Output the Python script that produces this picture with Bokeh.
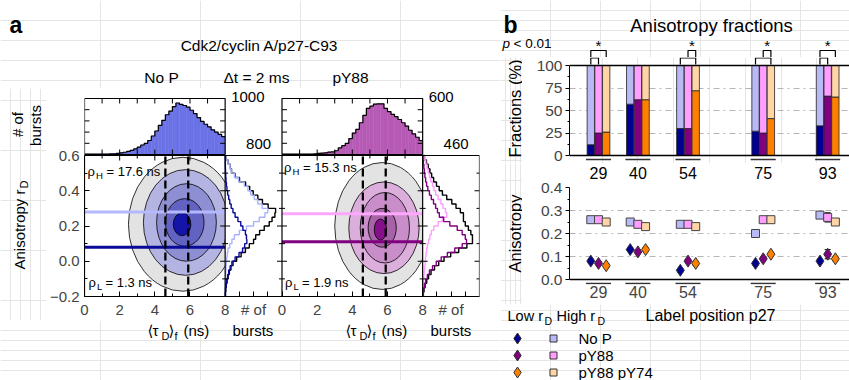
import math
from bokeh.plotting import figure
from bokeh.models import (Range1d, FixedTicker, Label, Whisker, TeeHead,
                          ColumnDataSource, Span, NumeralTickFormatter)
from bokeh.layouts import row, column
from bokeh.embed import file_html
from bokeh.resources import INLINE

FONT = "Liberation Sans"

# ======================= Panel a data =======================
tau_edges = [round(0.2 * i, 1) for i in range(41)]          # ns bins of top histograms
nop_tau_counts = [5, 5, 5, 5, 5, 8, 8, 10, 12, 20,
                  30, 40, 55, 75, 100, 130, 170, 200, 250, 330,
                  420, 520, 610, 710, 775, 855, 920, 895, 875, 845,
                  790, 730, 660, 590, 540, 495, 440, 400, 360, 320]
py88_tau_counts = [3, 3, 3, 3, 3, 3, 4, 4, 5, 6,
                   12, 15, 18, 25, 28, 40, 70, 95, 120, 170,
                   230, 270, 340, 420, 495, 518, 540, 543, 543, 495,
                   460, 430, 405, 375, 340, 305, 260, 220, 185, 150]
nop_tau_max, py88_tau_max = 1000, 600

r_edges = [round(-0.2 + 0.025 * i, 4) for i in range(33)]   # anisotropy bins of side histograms
nop_r_high = [2, 3, 4, 5, 7, 9, 12, 16, 22, 30, 40, 65, 95, 130, 200, 300,
              400, 480, 560, 600, 520, 460, 410, 360, 320, 270, 190, 130, 85, 70, 40, 10]
nop_r_low = [3, 6, 12, 22, 35, 50, 70, 95, 140, 195, 245, 275, 305, 300, 285, 250,
             220, 180, 140, 110, 85, 65, 50, 35, 25, 18, 12, 8, 5, 3, 2, 1]
py88_r_high = [2, 3, 5, 8, 10, 13, 16, 20, 23, 27, 32, 38, 48, 58, 70, 90,
               125, 160, 195, 185, 165, 148, 125, 105, 92, 80, 65, 55, 45, 35, 25, 12]
py88_r_low = [4, 8, 15, 25, 38, 55, 80, 110, 150, 200, 260, 320, 355, 345, 320, 280,
              220, 170, 135, 120, 105, 88, 70, 55, 42, 32, 24, 18, 14, 10, 6, 3]
nop_r_max, py88_r_max = 800, 460

# contour levels (outer -> inner): centre, full width, full height
nop_ctr_tau = [5.6, 5.75, 5.8, 5.7, 5.55]
nop_ctr_r = [0.21, 0.22, 0.22, 0.22, 0.21]
nop_ctr_w = [6.2, 4.8, 3.4, 2.2, 1.0]
nop_ctr_h = [0.76, 0.60, 0.44, 0.27, 0.13]
nop_ctr_col = ["#e3e3e3", "#b4b4e2", "#8e8ed3", "#6262c2", "#1414a8"]
py88_ctr_tau = [5.7, 5.8, 5.85, 5.7, 5.6]
py88_ctr_r = [0.20, 0.19, 0.19, 0.19, 0.18]
py88_ctr_w = [5.4, 4.0, 2.8, 1.6, 0.7]
py88_ctr_h = [0.72, 0.52, 0.40, 0.22, 0.12]
py88_ctr_col = ["#e3e3e3", "#dcaedc", "#c98ec9", "#a862a8", "#85108a"]

nop_tau_lines = [4.6, 5.9]
py88_tau_lines = [4.6, 5.9]
nop_r_levels = [0.28, 0.08]      # high, low
py88_r_levels = [0.27, 0.11]
nop_rho = ["17.6", "1.3"]
py88_rho = ["15.3", "1.9"]

# ======================= Panel b data =======================
positions = [29, 40, 54, 75, 93]
series = ["No P", "pY88", "pY88 pY74"]
frac_low = [[12, 57, 30, 27, 33], [25, 62, 30, 25, 66], [26, 62, 72, 41, 65]]
aniso_high = [[0.26, 0.25, 0.24, 0.20, 0.28], [0.26, 0.24, 0.24, 0.26, 0.27], [0.25, 0.23, 0.23, 0.26, 0.25]]
aniso_high_err = [[0.008, 0.008, 0.006, 0.008, 0.008], [0.006, 0.006, 0.006, 0.006, 0.02], [0.008, 0.008, 0.008, 0.008, 0.008]]
aniso_low = [[0.08, 0.13, 0.04, 0.07, 0.08], [0.07, 0.12, 0.08, 0.09, 0.11], [0.06, 0.13, 0.07, 0.11, 0.09]]
aniso_low_err = [[0.008, 0.008, 0.008, 0.008, 0.008], [0.008, 0.008, 0.008, 0.008, 0.02], [0.008, 0.008, 0.008, 0.008, 0.008]]
sig_pairs = {29: [(0, 1), (0, 2)], 54: [(0, 2), (1, 2)], 75: [(0, 2), (1, 2)], 93: [(0, 1), (0, 2)]}

low_colors = ["#000090", "#800080", "#ff8000"]
high_colors = ["#b9b9f6", "#ff9eff", "#ffd5a6"]
nop_fill, py88_fill = "#6a72e6", "#b65ab6"


# ======================= helpers =======================
def fig(w, h, xr, yr, lb=0, rb=0, tb=0, bb=0, **kw):
    p = figure(width=w, height=h, x_range=xr, y_range=yr,
               min_border_left=lb, min_border_right=rb, min_border_top=tb, min_border_bottom=bb,
               output_backend="svg", toolbar_location=None, tools="", **kw)
    p.background_fill_color = "white"
    p.border_fill_color = "white"
    try:
        p.frame_align = False
    except Exception:
        pass
    return p


def textfig(x0, x1, y0, y1):
    p = fig(x1 - x0, y1 - y0, Range1d(x0, x1), Range1d(y1, y0),
            x_axis_location=None, y_axis_location=None)
    p.outline_line_color = None
    return p


def label(p, x, y, text, size=15, align="left", baseline="middle", angle=0.0,
          style="normal", color="black", xr=None, yr=None, font=FONT):
    kw = dict(x=x, y=y, text=text, text_font=font, text_font_size=f"{size}px",
              text_align=align, text_baseline=baseline, angle=angle,
              text_font_style=style, text_color=color)
    if xr:
        kw["x_range_name"] = xr
    if yr:
        kw["y_range_name"] = yr
    p.add_layout(Label(**kw))


def style_axis(ax, size="15px"):
    ax.major_label_text_font = FONT
    ax.major_label_text_font_size = size
    ax.axis_line_color = "black"
    ax.major_tick_line_color = "black"
    ax.minor_tick_line_color = "black"


# ======================= Panel a =======================
MAIN_W, HIST_W = 141, 57
FR_W = 2 * (MAIN_W + HIST_W)        # 396 px frame width
K = 8.0 / MAIN_W                    # ns per pixel
RK = 0.8 / 141                      # anisotropy per pixel
PY_OFF = (MAIN_W + HIST_W) * K      # pY88 block start (NoP-ns units)
A_FL, A_FT, A_FB = 83, 88, 296      # frame left/top/bottom (page px)
TOP_T, TOP_B = 98, 154              # top histogram box
MAIN_T = 155
A_BOT = A_FB + 24

hdA = textfig(0, 500, 0, 88)
label(hdA, 9, 24, "a", size=23, style="bold")
label(hdA, 259, 45, "Cdk2/cyclin A/p27-C93", size=15.5, align="center")
label(hdA, 161, 77, "No P", size=15.5, align="center")
label(hdA, 223, 77, "\u0394t = 2 ms", size=15.5)
label(hdA, 350, 77, "pY88", size=15.5, align="center")

txtLA = textfig(0, 46, 88, A_BOT)
label(txtLA, 17, 124, "# of", size=15, align="center", angle=math.pi / 2)
label(txtLA, 35, 125, "bursts", size=15, align="center", angle=math.pi / 2)
label(txtLA, 19, 229, "Anisotropy r", size=15, align="center", angle=math.pi / 2)
label(txtLA, 23, 184, "D", size=11, align="center", angle=math.pi / 2)

A = fig(500 - 46, A_BOT - A_FT, Range1d(0, FR_W * K),
        Range1d(-0.2, 0.6 + (MAIN_T - A_FT) * RK), lb=A_FL - 46, rb=500 - A_FL - FR_W, tb=0, bb=A_BOT - A_FB)
A.outline_line_color = None
A.grid.visible = False


def top_rng(cmax):
    per = cmax / (TOP_B - TOP_T)
    return Range1d(-(A_FB - TOP_B) * per, (TOP_B - A_FT) * per)


A.extra_x_ranges = {
    "cnt1": Range1d(-nop_r_max * MAIN_W / HIST_W, nop_r_max * (FR_W - MAIN_W) / HIST_W),
    "tau2": Range1d(-PY_OFF, (FR_W - MAIN_W - HIST_W) * K),
    "cnt2": Range1d(-py88_r_max * (2 * MAIN_W + HIST_W) / HIST_W, py88_r_max),
    "px": Range1d(A_FL, A_FL + FR_W)}
A.extra_y_ranges = {"py": Range1d(A_FB, A_FT), "top1": top_rng(nop_tau_max), "top2": top_rng(py88_tau_max)}

# ---- top histograms
for counts, cmax, col, xr, yr in [(nop_tau_counts, nop_tau_max, nop_fill, "default", "top1"),
                                  (py88_tau_counts, py88_tau_max, py88_fill, "tau2", "top2")]:
    A.quad(left=tau_edges[:-1], right=tau_edges[1:], bottom=0, top=counts, fill_color=col,
           line_color=col, line_width=0.5, x_range_name=xr, y_range_name=yr)
    xs, ys = [], []
    for i, c in enumerate(counts):
        xs += [tau_edges[i], tau_edges[i + 1]]
        ys += [c, c]
    A.line(xs, ys, line_color="black", line_width=1.2, x_range_name=xr, y_range_name=yr)
    dy, dx = 5 * cmax / (TOP_B - TOP_T), 5 * K
    tx = [1, 2, 3, 4, 5, 6, 7]
    ty = [cmax * j / 5 for j in (1, 2, 3, 4)]
    A.segment(x0=tx + tx, x1=tx + tx, y0=[0] * 7 + [cmax] * 7, y1=[dy] * 7 + [cmax - dy] * 7,
              line_color="black", line_width=1, x_range_name=xr, y_range_name=yr)
    A.segment(x0=[0] * 4 + [8] * 4, x1=[dx] * 4 + [8 - dx] * 4, y0=ty + ty, y1=ty + ty,
              line_color="black", line_width=1, x_range_name=xr, y_range_name=yr)
    A.quad(left=0, right=8, bottom=0, top=cmax, fill_color=None, line_color="black", line_width=1.2,
           x_range_name=xr, y_range_name=yr)

# ---- 2D panels
A.ellipse(x="x", y="y", width="w", height="h", fill_color="c", line_color="black", line_width=0.8,
          source=ColumnDataSource(dict(x=nop_ctr_tau, y=nop_ctr_r, w=nop_ctr_w, h=nop_ctr_h, c=nop_ctr_col)))
A.ellipse(x="x", y="y", width="w", height="h", fill_color="c", line_color="black", line_width=0.8,
          x_range_name="tau2",
          source=ColumnDataSource(dict(x=py88_ctr_tau, y=py88_ctr_r, w=py88_ctr_w, h=py88_ctr_h, c=py88_ctr_col)))
A.quad(left=[8.0, (2 * MAIN_W + HIST_W) * K], right=[PY_OFF, FR_W * K], bottom=-0.2, top=0.6,
       fill_color="white", line_color=None)
A.segment(x0=[0, 0], x1=[8, 8], y0=nop_r_levels, y1=nop_r_levels,
          line_color=["#b3b8ff", "#0a0a9a"], line_width=3)
A.segment(x0=[0, 0], x1=[8, 8], y0=py88_r_levels, y1=py88_r_levels,
          line_color=["#ffa6ff", "#800080"], line_width=3, x_range_name="tau2")
A.segment(x0=nop_tau_lines, x1=nop_tau_lines, y0=-0.2, y1=0.6, line_color="black",
          line_width=2.3, line_dash="8 4")
A.segment(x0=py88_tau_lines, x1=py88_tau_lines, y0=-0.2, y1=0.6, line_color="black",
          line_width=2.3, line_dash="8 4", x_range_name="tau2")


def vstep(counts):
    xs, ys = [0], [r_edges[0]]
    for i, c in enumerate(counts):
        xs += [c, c]
        ys += [r_edges[i], r_edges[i + 1]]
    xs.append(0)
    ys.append(r_edges[-1])
    return xs, ys


for hi, lo, rng, chi, clo in [(nop_r_high, nop_r_low, "cnt1", "#aab2ff", "#0a0a9a"),
                              (py88_r_high, py88_r_low, "cnt2", "#ff9cff", "#800080")]:
    tot = [a + b for a, b in zip(hi, lo)]
    for cnts, col in [(tot, "black"), (hi, chi), (lo, clo)]:
        xs, ys = vstep(cnts)
        A.line(xs, ys, x_range_name=rng, line_color=col, line_width=1.4)

# separators, frame and inward ticks
bnds = [MAIN_W, MAIN_W + HIST_W, 2 * MAIN_W + HIST_W]
A.segment(x0=[b * K for b in bnds], x1=[b * K for b in bnds], y0=-0.2, y1=0.6,
          line_color="black", line_width=1.2)
A.quad(left=0, right=FR_W * K, bottom=-0.2, top=0.6, fill_color=None, line_color="black", line_width=1.2)
r_major, r_minor = [0.0, 0.2, 0.4], [-0.1, 0.1, 0.3, 0.5]
tk_x0, tk_x1, tk_y = [], [], []
for b, dirs in [(MAIN_W, (-1, 1)), (MAIN_W + HIST_W, (-1, 1)), (2 * MAIN_W + HIST_W, (-1, 1)), (FR_W, (-1,))]:
    for d in dirs:
        for yv, ln in [(v, 5) for v in r_major] + [(v, 3) for v in r_minor]:
            tk_x0.append(b * K)
            tk_x1.append((b + d * ln) * K)
            tk_y.append(yv)
A.segment(x0=tk_x0, x1=tk_x1, y0=tk_y, y1=tk_y, line_color="black", line_width=1)
top_x, top_l = [], []
for off in (0.0, PY_OFF):
    for t, ln in [(2, 5), (4, 5), (6, 5), (1, 3), (3, 3), (5, 3), (7, 3)]:
        top_x.append(t + off)
        top_l.append(0.6 - ln * RK)
A.segment(x0=top_x, x1=top_x, y0=[0.6] * len(top_x), y1=top_l, line_color="black", line_width=1)

xa = A.xaxis[0]
style_axis(xa)
maj, over = [], {}
for off in (0.0, PY_OFF):
    for t in [0, 2, 4, 6, 8]:
        v = float(t + off)
        maj.append(v)
        over[v] = str(t)
for base in (MAIN_W, 2 * MAIN_W + HIST_W):
    for j in (1, 2, 3):
        v = (base + j * HIST_W / 4) * K
        maj.append(v)
        over[v] = "# of" if j == 2 else ""
xa.ticker = FixedTicker(ticks=maj, minor_ticks=[t + off for off in (0.0, PY_OFF) for t in (1, 3, 5, 7)])
xa.major_label_overrides = over
xa.major_tick_in, xa.major_tick_out = 5, 0
xa.minor_tick_in, xa.minor_tick_out = 3, 0
xa.major_label_standoff = 4

ya = A.yaxis[0]
style_axis(ya)
ya.bounds = (-0.2, 0.6)
ya.ticker = FixedTicker(ticks=[-0.2, 0.0, 0.2, 0.4, 0.6], minor_ticks=r_minor)
ya.major_label_overrides = {-0.2: "\u22120.2", 0.0: "0.0", 0.2: "0.2", 0.4: "0.4", 0.6: "0.6"}
ya.major_tick_in, ya.major_tick_out = 5, 0
ya.minor_tick_in, ya.minor_tick_out = 3, 0
ya.major_label_standoff = 5

label(A, 230, 96, str(nop_tau_max), size=15, xr="px", yr="py")
label(A, 245, 143, str(nop_r_max), size=15, xr="px", yr="py")
label(A, 428, 96, str(py88_tau_max), size=15, xr="px", yr="py")
label(A, 443, 143, str(py88_r_max), size=15, xr="px", yr="py")
for dx, rho, yh in [(0, nop_rho, 171), (MAIN_W + HIST_W - 1, py88_rho, 167)]:
    label(A, 86 + dx, yh, "\u03c1", size=13, xr="px", yr="py")
    label(A, 94.5 + dx, yh + 4, "H", size=9.5, xr="px", yr="py")
    label(A, 105 + dx, yh, f"= {rho[0]} ns", size=13, xr="px", yr="py")
    label(A, 87 + dx, 282, "\u03c1", size=13, xr="px", yr="py")
    label(A, 95.5 + dx, 286, "L", size=9.5, xr="px", yr="py")
    label(A, 104 + dx, 282, f"= {rho[1]} ns", size=13, xr="px", yr="py")

# x titles under the panels (whole-width strip, page coordinates)
txtBA = textfig(0, 500, A_BOT, 380)
TX = 147          # left edge of the lifetime axis title
for dx in (0, MAIN_W + HIST_W):
    label(txtBA, TX + dx, 330, "\u27e8", size=15, font="DejaVu Sans")
    label(txtBA, TX + 5 + dx, 330, "\u03c4", size=15)
    label(txtBA, TX + 14 + dx, 335, "D", size=11)
    label(txtBA, TX + 21 + dx, 330, "\u27e9", size=15, font="DejaVu Sans")
    label(txtBA, TX + 27 + dx, 335, "f", size=11)
    label(txtBA, TX + 36 + dx, 330, "(ns)", size=15)
    label(txtBA, 232 + dx, 330, "bursts", size=15)

panel_a = column(hdA, row(txtLA, A), txtBA)

# ======================= Panel b =======================
XR0, XR1 = 20.9, 99.1               # label-position range over page x 569..849
UPX = (XR1 - XR0) / 280.0
BAR_OFF = [-2.15, 0.0, 2.15]
BAR_W = 2.05
B_SPLIT = 163                       # page y where the bar block ends

hdB = textfig(500, 849, 0, 57)
hdB.extra_x_ranges = {"pos": Range1d(XR0 - 69 * UPX, XR1)}
label(hdB, 510, 24, "b", size=23, style="bold", align="center")
label(hdB, 711, 25, "Anisotropy fractions", size=18.5, align="center")
label(hdB, 502, 43, "p", size=13.5, style="italic")
label(hdB, 513, 43, "< 0.01", size=13.5)
up_x, up_y, lo_x, lo_y = [], [], [], []
for pos, pairs in sig_pairs.items():
    (a0, b0), (a1, b1) = pairs
    xa0, xb0 = pos + BAR_OFF[a0], pos + BAR_OFF[b0]
    xa1, xb1 = pos + BAR_OFF[a1], pos + BAR_OFF[b1]
    lo_x.append([xa0, xa0, xb0, xb0])
    lo_y.append([64, 57.5, 57.5, 64])
    up_x.append([xa1, xa1, xb1, xb1])
    up_y.append([57.5, 50, 50, 57.5])
    label(hdB, (xa1 + xb1) / 2, 45, "*", size=15, align="center", xr="pos")
hdB.multi_line(xs=up_x, ys=up_y, line_color="black", line_width=1.2, x_range_name="pos")

txtB1 = textfig(500, 522, 57, B_SPLIT)
label(txtB1, 514, 108, "Fractions (%)", size=16.5, align="center", angle=math.pi / 2)

bar = fig(327, B_SPLIT - 57, Range1d(XR0, XR1),
          Range1d(-(B_SPLIT - 155) / 0.9, 100 + (65 - 57) / 0.9),
          lb=47, rb=0, tb=0, bb=0, x_axis_location=None)
bar.outline_line_color = None
bar.extra_y_ranges = {"py": Range1d(B_SPLIT, 57)}
bar.ygrid.ticker = FixedTicker(ticks=[25, 50, 75])
bar.ygrid.grid_line_color = "#b5b5b5"
bar.ygrid.grid_line_dash = "dashdot"
for i in range(3):
    xs = [p + BAR_OFF[i] for p in positions]
    bar.vbar(x=xs, width=BAR_W, bottom=0, top=frac_low[i], fill_color=low_colors[i],
             line_color="#222222", line_width=0.8)
    bar.vbar(x=xs, width=BAR_W, bottom=frac_low[i], top=100, fill_color=high_colors[i],
             line_color="#222222", line_width=0.8)
bar.add_layout(Span(location=0, dimension="width", line_color="black", line_width=1.5))
bar.add_layout(Span(location=100, dimension="width", line_color="black", line_width=1.5))
bar.segment(x0=[p - 3.5 for p in positions], x1=[p + 3.5 for p in positions], y0=-4.4, y1=-4.4,
            line_color="#333333", line_width=1.5)
bar.multi_line(xs=lo_x, ys=lo_y, line_color="black", line_width=1.2, y_range_name="py")
ba = bar.yaxis[0]
style_axis(ba, "15.5px")
ba.bounds = (0, 100)
ba.ticker = FixedTicker(ticks=[0, 25, 50, 75, 100], minor_ticks=[12.5, 37.5, 62.5, 87.5])
ba.major_tick_in, ba.major_tick_out = 0, 4
ba.minor_tick_in, ba.minor_tick_out = 0, 2
ba.major_label_standoff = 3

txtB2 = textfig(500, 522, B_SPLIT, 304)
label(txtB2, 514, 233, "Anisotropy", size=16.5, align="center", angle=math.pi / 2)

an = fig(327, 304 - B_SPLIT, Range1d(XR0, XR1),
         Range1d(-(284 - 279) / 230, 0.4 + (187 - B_SPLIT) / 230),
         lb=47, rb=0, tb=0, bb=20)
an.outline_line_color = None
an.extra_y_ranges = {"py": Range1d(284, B_SPLIT)}
an.xgrid.visible = False
an.ygrid.ticker = FixedTicker(ticks=[0.1, 0.2, 0.3])
an.ygrid.grid_line_color = "#b5b5b5"
an.ygrid.grid_line_dash = "dashdot"
an.add_layout(Span(location=0, dimension="width", line_color="black", line_width=1.5))
an.segment(x0=[p - 3.5 for p in positions], x1=[p + 3.5 for p in positions], y0=-0.0174, y1=-0.0174,
           line_color="#333333", line_width=1.5)
for pos in positions:       # group labels of the fraction bars
    label(an, pos, 172, str(pos), size=16, align="center", yr="py")
for i in range(3):
    xs = [p + BAR_OFF[i] for p in positions]
    for vals, errs in [(aniso_high[i], aniso_high_err[i]), (aniso_low[i], aniso_low_err[i])]:
        s = ColumnDataSource(dict(x=xs, up=[v + e for v, e in zip(vals, errs)],
                                  lo=[v - e for v, e in zip(vals, errs)]))
        an.add_layout(Whisker(source=s, base="x", upper="up", lower="lo", line_color="black",
                              line_width=1, upper_head=TeeHead(size=6, line_color="black"),
                              lower_head=TeeHead(size=6, line_color="black")))
    an.scatter(x=xs, y=aniso_high[i], marker="square", size=8, fill_color=high_colors[i],
               line_color="#444444", line_width=1)
    an.scatter(x=xs, y=aniso_low[i], marker="diamond", size=12, fill_color=low_colors[i],
               line_color="#333333", line_width=1)
aa = an.yaxis[0]
style_axis(aa, "15.5px")
aa.bounds = (0, 0.4)
aa.ticker = FixedTicker(ticks=[0.0, 0.1, 0.2, 0.3, 0.4], minor_ticks=[0.05, 0.15, 0.25, 0.35])
aa.formatter = NumeralTickFormatter(format="0.0")
aa.major_tick_in, aa.major_tick_out = 0, 4
aa.minor_tick_in, aa.minor_tick_out = 0, 2
aa.major_label_standoff = 3
ax2 = an.xaxis[0]
style_axis(ax2, "16px")
ax2.ticker = FixedTicker(ticks=positions, minor_ticks=[])
ax2.axis_line_color = None
ax2.major_tick_line_color = None
ax2.minor_tick_line_color = None
ax2.major_tick_in, ax2.major_tick_out = 0, 0
ax2.major_label_standoff = 1

lgB = textfig(500, 849, 304, 380)
label(lgB, 507, 315, "Low r", size=14.5)
label(lgB, 544, 320, "D", size=10.5)
label(lgB, 556, 315, "High r", size=14.5)
label(lgB, 597, 320, "D", size=10.5)
label(lgB, 710, 315, "Label position p27", size=16, align="center")
rows_y = [338, 355, 372]
lgB.scatter(x=[517] * 3, y=rows_y, marker="diamond", size=11, fill_color=low_colors, line_color="#333333")
lgB.scatter(x=[553] * 3, y=rows_y, marker="square", size=7, fill_color=high_colors, line_color="#333333")
for name, yy in zip(series, rows_y):
    label(lgB, 578, yy, name, size=15)

panel_b = column(hdB, row(txtB1, bar), row(txtB2, an), lgB)
page = row(panel_a, panel_b)

open("out.html", "w").write(file_html(page, INLINE))
